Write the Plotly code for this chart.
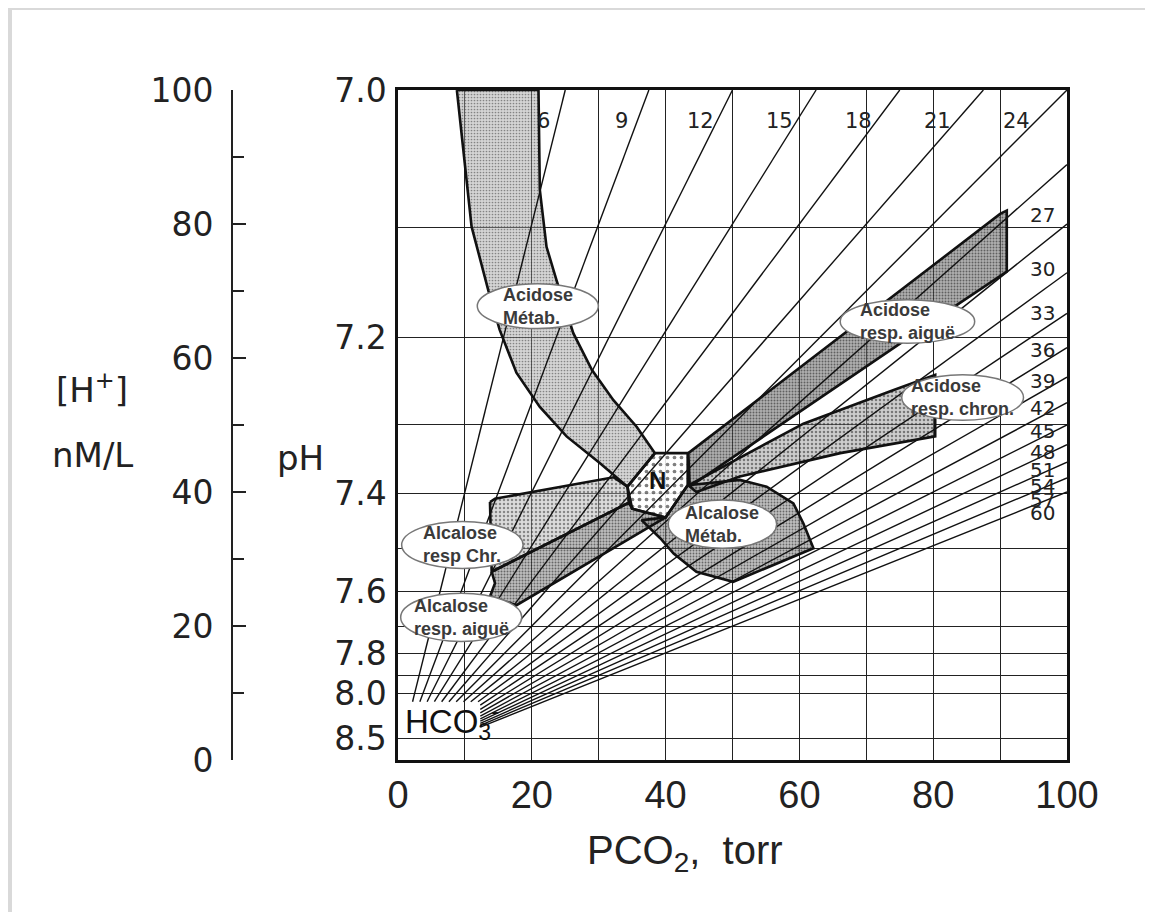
import plotly.graph_objects as go

# ---------------- data ----------------
pco2_major = [0, 20, 40, 60, 80, 100]
pco2_minor = [10, 30, 50, 70, 90]
ph_labels = [7.0, 7.2, 7.4, 7.6, 7.8, 8.0, 8.5]
ph_minor = [7.1, 7.3, 7.5, 7.7, 7.9]
h_ticks = [0, 20, 40, 60, 80, 100]
hco3_top = [6, 9, 12, 15, 18, 21, 24]
hco3_right = [27, 30, 33, 36, 39, 42, 45, 48, 51, 54, 57, 60]

acid_metab_pco2 = [8.8, 10.3, 11.0, 13.5, 15.2, 17.7, 21.2, 25.2, 30.2, 34.3,
                   38.4, 35.7, 32.2, 29.0, 26.2, 23.7, 22.2, 21.2, 21.0]
acid_metab_h = [100, 86.6, 79.6, 70.1, 64.2, 57.8, 52.7, 48.3, 44.3, 40.8,
                45.8, 49.7, 53.7, 58.2, 63.7, 71.6, 76.6, 85.1, 100]

alk_chr_pco2 = [13.75, 14.5, 32.2, 34.3, 34.5, 14.0]
alk_chr_h = [38.5, 39.0, 42.2, 40.8, 38.4, 28.1]

alk_acute_pco2 = [14.0, 14.5, 13.75, 17.7, 40.0, 35.0, 34.5]
alk_acute_h = [28.1, 26.4, 24.4, 23.1, 36.2, 37.5, 38.4]

normal_pco2 = [38.4, 43.3, 43.3, 40.0, 35.0, 34.3]
normal_h = [45.8, 45.8, 41.0, 36.2, 37.5, 40.8]

alk_metab_pco2 = [43.3, 51.1, 55.1, 59.1, 60.6, 62.1, 50.1, 44.6, 41.2, 39.2, 36.4, 40.0]
alk_metab_h = [41.0, 41.8, 40.8, 38.3, 35.3, 31.6, 26.6, 28.1, 30.8, 33.1, 35.8, 36.2]

acid_chr_pco2 = [43.4, 60.6, 74.0, 80.3, 80.3, 66.1, 51.1, 44.6]
acid_chr_h = [41.0, 50.2, 55.2, 57.5, 48.3, 45.8, 42.3, 40.0]

acid_acute_pco2 = [43.4, 90.0, 91.0, 91.0, 83.5, 43.6]
acid_acute_h = [45.8, 81.5, 82.0, 72.9, 67.9, 40.8]

label_text = ["Acidose<br>Métab.", "Alcalose<br>resp Chr.", "Alcalose<br>resp. aiguë",
              "Alcalose<br>Métab.", "Acidose<br>resp. aiguë", "Acidose<br>resp. chron."]
label_pco2_min = [11.85, 0.55, 0.4, 40.4, 66.1, 75.3]
label_pco2_max = [29.95, 18.7, 18.5, 56.6, 86.2, 93.5]
label_h_min = [64.4, 28.6, 17.7, 31.6, 62.2, 50.7]
label_h_max = [71.1, 35.6, 24.9, 38.8, 68.7, 57.5]

# ---------------- figure ----------------
fig = go.Figure()

regions = [
    (acid_metab_pco2, acid_metab_h, "rgba(160,160,160,0.45)", "#333", 3, 0.25),
    (alk_chr_pco2, alk_chr_h, "rgba(175,175,175,0.45)", "#333", 4, 0.3),
    (alk_acute_pco2, alk_acute_h, "rgba(125,125,125,0.5)", "#111", 3, 0.35),
    (normal_pco2, normal_h, "rgba(255,255,255,0.85)", "#000", 7, 0.22),
    (alk_metab_pco2, alk_metab_h, "rgba(125,125,125,0.5)", "#111", 3, 0.3),
    (acid_chr_pco2, acid_chr_h, "rgba(145,145,145,0.45)", "#222", 4, 0.32),
    (acid_acute_pco2, acid_acute_h, "rgba(110,110,110,0.55)", "#111", 3, 0.35),
]

for px, py, bg, fg, sz, sol in regions:
    fig.add_trace(go.Scatter(
        x=px + [px[0]], y=py + [py[0]], mode="lines", fill="toself",
        line=dict(width=0, color="rgba(0,0,0,0)"),
        fillpattern=dict(shape=".", bgcolor=bg, fgcolor=fg, size=sz, solidity=sol),
        hoverinfo="skip", showlegend=False))

# HCO3 isopleths: [H+] = 24 * PCO2 / HCO3
iso_x, iso_y = [], []
for k in hco3_top + hco3_right:
    p0 = min(8.7 * k / 24.0, 12.3)
    p1 = min(100.0, 100.0 * k / 24.0)
    iso_x += [p0, p1, None]
    iso_y += [24.0 * p0 / k, 24.0 * p1 / k, None]
fig.add_trace(go.Scatter(x=iso_x, y=iso_y, mode="lines",
                         line=dict(color="#111", width=1.4),
                         hoverinfo="skip", showlegend=False))

for px, py, bg, fg, sz, sol in regions:
    fig.add_trace(go.Scatter(
        x=px + [px[0]], y=py + [py[0]], mode="lines",
        line=dict(width=2.6, color="#111"),
        hoverinfo="skip", showlegend=False))

# dummy trace for the [H+] axis
fig.add_trace(go.Scatter(x=[None], y=[None], yaxis="y2", showlegend=False))

ph_vals = [10 ** (9 - p) for p in ph_labels]
ph_minor_vals = [10 ** (9 - p) for p in ph_minor]

OFF = 8                      # page body margin of the html page
W, H = 1153 - OFF, 912 - OFF
L, R, T, B = 0, 86, 90 - OFF, 152
PW, PH = W - L - R, H - T - B


def px2x(px):
    return (px - OFF - L) / PW


def py2y(py):
    return (H - B - (py - OFF)) / PH


shapes = []
for x0, x1, y0, y1 in zip(label_pco2_min, label_pco2_max, label_h_min, label_h_max):
    shapes.append(dict(type="circle", xref="x", yref="y", x0=x0, x1=x1, y0=y0, y1=y1,
                       fillcolor="white", line=dict(color="#777", width=1.5), layer="above"))

# light textured border of the scanned page (partly hidden by page margin)
border = "#d9d9d9"
shapes.append(dict(type="rect", xref="paper", yref="paper", x0=px2x(OFF), x1=px2x(12),
                   y0=py2y(912), y1=py2y(OFF), fillcolor=border, line=dict(width=0)))
shapes.append(dict(type="rect", xref="paper", yref="paper", x0=px2x(OFF), x1=px2x(1153),
                   y0=py2y(10), y1=py2y(OFF), fillcolor=border, line=dict(width=0)))

annotations = []
for t, x0, x1, y0, y1 in zip(label_text, label_pco2_min, label_pco2_max, label_h_min, label_h_max):
    annotations.append(dict(x=(x0 + x1) / 2, y=(y0 + y1) / 2, xref="x", yref="y",
                            text="<b>" + t.replace("<br>", "</b><br><b>") + "</b>",
                            showarrow=False, align="left", xanchor="center", yanchor="middle",
                            font=dict(family="Liberation Sans, Arial", size=18, color="#3a3a3a")))

annotations.append(dict(x=38.8, y=41.7, xref="x", yref="y", text="<b>N</b>", showarrow=False,
                        xanchor="center", yanchor="middle",
                        font=dict(family="Liberation Sans, Arial", size=24, color="#111")))
annotations.append(dict(x=0.8, y=5.8, xref="x", yref="y", text="HCO<sub>3</sub><sup>-</sup>",
                        showarrow=False, xanchor="left", yanchor="middle",
                        font=dict(family="Liberation Sans Narrow, Liberation Sans", size=33, color="#111")))

for k in hco3_top:
    ptop = 100.0 * k / 24.0
    annotations.append(dict(x=0.9427 * ptop - 1.87, y=95.3, xref="x", yref="y", text=str(k),
                            showarrow=False, xanchor="center", yanchor="middle",
                            font=dict(family="DejaVu Sans", size=21, color="#222")))
for k in hco3_right:
    annotations.append(dict(x=96.3, y=24.0 * 91.0 / k + 0.5, xref="x", yref="y", text=str(k),
                            showarrow=False, xanchor="center", yanchor="middle",
                            font=dict(family="DejaVu Sans", size=20, color="#222")))

annotations.append(dict(x=px2x(92), y=py2y(388), xref="paper", yref="paper",
                        text="[H<sup>+</sup>]", showarrow=False, xanchor="center", yanchor="middle",
                        font=dict(family="DejaVu Sans", size=34, color="#222")))
annotations.append(dict(x=px2x(92), y=py2y(455), xref="paper", yref="paper",
                        text="nM/L", showarrow=False, xanchor="center", yanchor="middle",
                        font=dict(family="DejaVu Sans", size=34, color="#222")))
annotations.append(dict(x=px2x(300), y=py2y(458), xref="paper", yref="paper",
                        text="pH", showarrow=False, xanchor="center", yanchor="middle",
                        font=dict(family="DejaVu Sans", size=34, color="#222")))
annotations.append(dict(x=px2x(685), y=py2y(853), xref="paper", yref="paper",
                        text="PCO<sub>2</sub>,  torr", showarrow=False,
                        xanchor="center", yanchor="middle",
                        font=dict(family="Liberation Sans, Arial", size=40, color="#222")))

grid = "#222"
fig.update_layout(
    width=W, height=H,
    margin=dict(l=L, r=R, t=T, b=B, autoexpand=False),
    paper_bgcolor="white", plot_bgcolor="white",
    showlegend=False,
    xaxis=dict(domain=[px2x(398), 1], range=[0, 100], tickmode="array",
               tickvals=pco2_major, ticktext=[str(v) for v in pco2_major],
               showgrid=True, gridcolor=grid, gridwidth=1, zeroline=False,
               minor=dict(tickmode="array", tickvals=pco2_minor, showgrid=True,
                          gridcolor=grid, gridwidth=1, ticks=""),
               showline=True, linecolor="#111", linewidth=2.5, mirror=True,
               ticks="", ticklabelstandoff=0,
               tickfont=dict(family="Liberation Sans, Arial", size=38, color="#222"),
               automargin=False, fixedrange=True),
    yaxis=dict(range=[0, 100], tickmode="array", tickvals=ph_vals,
               ticktext=["%.1f" % p for p in ph_labels],
               showgrid=True, gridcolor=grid, gridwidth=1, zeroline=False,
               minor=dict(tickmode="array", tickvals=ph_minor_vals, showgrid=True,
                          gridcolor=grid, gridwidth=1, ticks=""),
               showline=True, linecolor="#111", linewidth=2.5, mirror=True,
               ticks="", ticklabelstandoff=2,
               tickfont=dict(family="DejaVu Sans", size=33, color="#222"),
               automargin=False, fixedrange=True),
    yaxis2=dict(range=[0, 100], overlaying="y", anchor="free", position=px2x(232),
                side="left", tickmode="array", tickvals=h_ticks,
                showgrid=False, zeroline=False, showline=True, linecolor="#222",
                linewidth=2, ticks="inside", ticklen=13, tickwidth=2, tickcolor="#222",
                minor=dict(ticks="inside", dtick=10, ticklen=11, tickwidth=2, tickcolor="#222"),
                ticklabelstandoff=11,
                tickfont=dict(family="DejaVu Sans", size=33, color="#222"),
                automargin=False, fixedrange=True),
    shapes=shapes,
    annotations=annotations,
)

fig.write_html("out.html")
